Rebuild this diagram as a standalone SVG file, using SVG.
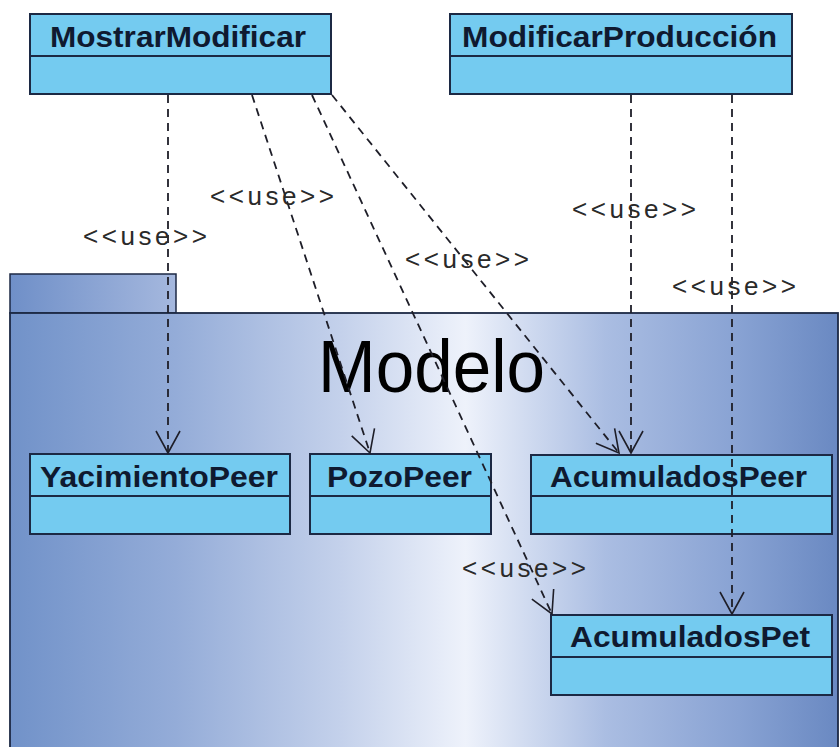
<svg xmlns="http://www.w3.org/2000/svg" width="840" height="747" viewBox="0 0 840 747">
  <style>
    .cls { fill: #74cbf0; stroke: #1c2944; stroke-width: 2; }
    .name { font-family: "Liberation Sans", Arial, sans-serif; font-weight: bold; font-size: 29px; fill: #0f1a30; }
    .dep { fill: none; stroke: #1e1e28; stroke-width: 1.8; stroke-dasharray: 8 6; }
    .lbl { font-family: "Liberation Sans", Arial, sans-serif; font-size: 26px; fill: #2a2a2a; }
  </style>
  <defs>
    <linearGradient id="pkgBody" x1="10" y1="0" x2="838" y2="0" gradientUnits="userSpaceOnUse">
      <stop offset="0" stop-color="#7192c9"/>
      <stop offset="0.2" stop-color="#94acd8"/>
      <stop offset="0.4" stop-color="#c4d1eb"/>
      <stop offset="0.55" stop-color="#eef2fb"/>
      <stop offset="0.72" stop-color="#aabde2"/>
      <stop offset="0.88" stop-color="#88a2d3"/>
      <stop offset="1" stop-color="#6a89c2"/>
    </linearGradient>
    <linearGradient id="pkgTab" x1="10" y1="0" x2="176" y2="0" gradientUnits="userSpaceOnUse">
      <stop offset="0" stop-color="#6f8fc8"/>
      <stop offset="1" stop-color="#a5b8de"/>
    </linearGradient>
    <marker id="open" viewBox="-24 -13 26 26" refX="0" refY="0" markerWidth="26" markerHeight="26" markerUnits="userSpaceOnUse" orient="auto">
      <path d="M-22,-12 L0,0 L-22,12" fill="none" stroke="#1e1e28" stroke-width="1.6"/>
    </marker>
  </defs>

  <rect width="840" height="747" fill="#ffffff"/>

  <!-- Modelo package -->
  <g id="pkg-modelo">
    <rect x="10" y="274" width="166" height="39" fill="url(#pkgTab)" stroke="#1c2944" stroke-width="1.5"/>
    <rect x="10" y="313" width="828" height="450" fill="url(#pkgBody)" stroke="#1c2944" stroke-width="1.8"/>
    <text x="318" y="392" font-family="Liberation Sans, Arial, sans-serif" font-size="75" fill="#000000" textLength="227" lengthAdjust="spacingAndGlyphs">Modelo</text>
  </g>

  <!-- classes -->
  <g id="cls-mostrar">
    <rect class="cls" x="30" y="14" width="301" height="80"/>
    <line x1="30" y1="56" x2="331" y2="56" stroke="#1c2944" stroke-width="2"/>
    <text class="name" x="50" y="47" textLength="256" lengthAdjust="spacingAndGlyphs">MostrarModificar</text>
  </g>
  <g id="cls-modprod">
    <rect class="cls" x="450" y="14" width="342" height="80"/>
    <line x1="450" y1="56" x2="792" y2="56" stroke="#1c2944" stroke-width="2"/>
    <text class="name" x="462" y="47" textLength="315" lengthAdjust="spacingAndGlyphs">ModificarProducción</text>
  </g>
  <g id="cls-yacimiento">
    <rect class="cls" x="30" y="454" width="260" height="80"/>
    <line x1="30" y1="496" x2="290" y2="496" stroke="#1c2944" stroke-width="2"/>
    <text class="name" x="40" y="487" textLength="238" lengthAdjust="spacingAndGlyphs">YacimientoPeer</text>
  </g>
  <g id="cls-pozo">
    <rect class="cls" x="310" y="454" width="181" height="80"/>
    <line x1="310" y1="496" x2="491" y2="496" stroke="#1c2944" stroke-width="2"/>
    <text class="name" x="327" y="487" textLength="145" lengthAdjust="spacingAndGlyphs">PozoPeer</text>
  </g>
  <g id="cls-acumpeer">
    <rect class="cls" x="531" y="455" width="301" height="79"/>
    <line x1="531" y1="496" x2="832" y2="496" stroke="#1c2944" stroke-width="2"/>
    <text class="name" x="550" y="487" textLength="257" lengthAdjust="spacingAndGlyphs">AcumuladosPeer</text>
  </g>
  <g id="cls-acumpet">
    <rect class="cls" x="551" y="615" width="281" height="80"/>
    <line x1="551" y1="657" x2="832" y2="657" stroke="#1c2944" stroke-width="2"/>
    <text class="name" x="570" y="647" textLength="240" lengthAdjust="spacingAndGlyphs">AcumuladosPet</text>
  </g>

  <!-- dependencies -->
  <g id="connectors">
    <line class="dep" x1="168" y1="95" x2="168" y2="453" marker-end="url(#open)"/>
    <line class="dep" x1="252" y1="95" x2="370" y2="453" marker-end="url(#open)"/>
    <line class="dep" x1="312" y1="95" x2="552" y2="614" marker-end="url(#open)"/>
    <line class="dep" x1="332" y1="95" x2="619" y2="453" marker-end="url(#open)"/>
    <line class="dep" x1="631" y1="95" x2="631" y2="453" marker-end="url(#open)"/>
    <line class="dep" x1="732" y1="95" x2="732" y2="614" marker-end="url(#open)"/>
  </g>

  <g id="labels">
    <text class="lbl" x="83" y="245" textLength="124" lengthAdjust="spacing">&lt;&lt;use&gt;&gt;</text>
    <text class="lbl" x="210" y="205" textLength="124" lengthAdjust="spacing">&lt;&lt;use&gt;&gt;</text>
    <text class="lbl" x="405" y="268" textLength="124" lengthAdjust="spacing">&lt;&lt;use&gt;&gt;</text>
    <text class="lbl" x="572" y="218" textLength="124" lengthAdjust="spacing">&lt;&lt;use&gt;&gt;</text>
    <text class="lbl" x="672" y="295" textLength="124" lengthAdjust="spacing">&lt;&lt;use&gt;&gt;</text>
    <text class="lbl" x="462" y="577" textLength="124" lengthAdjust="spacing">&lt;&lt;use&gt;&gt;</text>
  </g>
</svg>
